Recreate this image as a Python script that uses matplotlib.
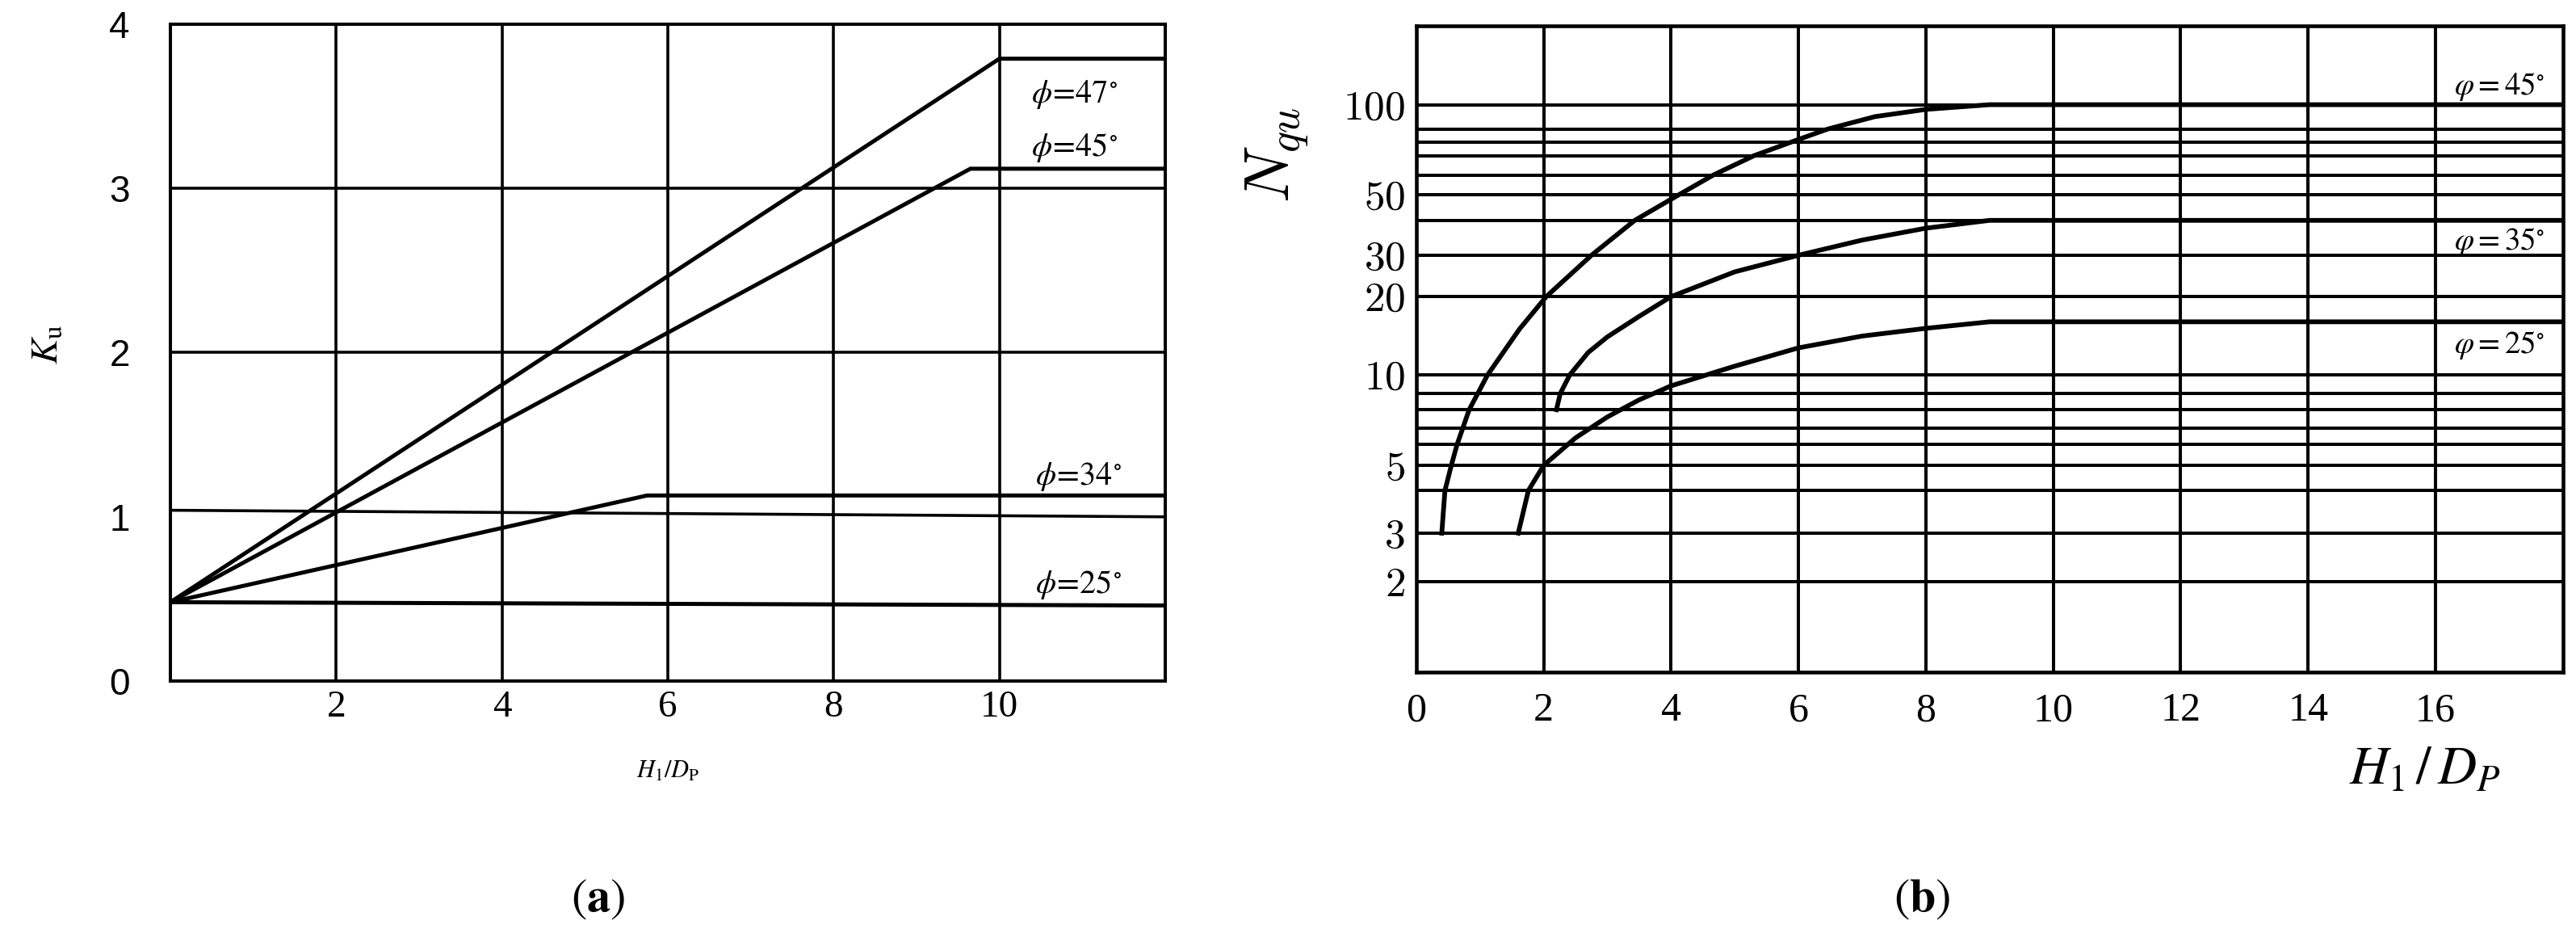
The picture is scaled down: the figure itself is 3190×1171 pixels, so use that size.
import numpy as np
import matplotlib
matplotlib.use("Agg")
import matplotlib.pyplot as plt

plt.rcParams["font.family"] = ["Liberation Serif", "DejaVu Serif"]
plt.rcParams["mathtext.fontset"] = "stix"

# ---- (a) Ku against H1/Dp ----
ku_angles = ["47", "45", "34", "25"]
ku_x = [[0, 10.0, 12], [0, 9.65, 12], [0, 5.75, 12], [0, 12]]
ku_y = [[0.48, 3.79, 3.79], [0.48, 3.12, 3.12], [0.48, 1.13, 1.13], [0.48, 0.46]]
ku_line1 = [1.04, 1.0]  # the "1" gridline is drawn a bit slanted in the original

# ---- (b) Nqu against H1/Dp ----
nq_angles = ["45", "35", "25"]
nq45_x = [0.40, 0.45, 0.55, 0.64, 0.83, 1.12, 1.62, 2.04, 2.75, 3.43, 4.0, 4.66, 5.3, 6.0, 6.45, 7.2, 8.0, 9.0, 18]
nq45_y = [3, 4, 5, 6, 8, 10, 15, 20, 30, 40, 48, 60, 70, 82, 90, 95, 98, 100, 100]
nq35_x = [2.2, 2.26, 2.41, 2.7, 3.0, 3.5, 4.0, 5.0, 6.0, 7.0, 8.0, 9.0, 18]
nq35_y = [8, 9, 10, 12.2, 14, 16.8, 20, 25.5, 30, 34, 37.5, 40, 40]
nq25_x = [1.6, 1.76, 2.0, 2.5, 3.0, 3.5, 4.0, 5.0, 6.0, 7.0, 8.0, 9.0, 18]
nq25_y = [3, 4, 5, 6.4, 7.6, 8.6, 9.4, 10.8, 12.7, 14.1, 15.1, 16, 16]

nq_ticks = [2, 3, 5, 10, 20, 30, 50, 100]
nq_grid = [2, 3, 4, 5, 6, 7, 8, 9, 10, 20, 30, 40, 50, 60, 70, 80, 90, 100]
# the printed axis is only roughly logarithmic, so calibrate it on its gridlines
nq_grid_pos = [0.140, 0.215, 0.281, 0.320, 0.352, 0.377, 0.406, 0.431, 0.460,
               0.581, 0.645, 0.699, 0.739, 0.769, 0.799, 0.820, 0.840, 0.878]


def lin_extrap(x, xp, fp):
    x = np.asarray(x, float)
    y = np.interp(x, xp, fp)
    y = np.where(x < xp[0], fp[0] + (x - xp[0]) * (fp[1] - fp[0]) / (xp[1] - xp[0]), y)
    y = np.where(x > xp[-1], fp[-1] + (x - xp[-1]) * (fp[-1] - fp[-2]) / (xp[-1] - xp[-2]), y)
    return y


lg = np.log10(nq_grid)
pos = np.array(nq_grid_pos)


def fwd(v):
    return lin_extrap(np.log10(np.maximum(v, 1e-6)), lg, pos)


def inv(p):
    return 10 ** lin_extrap(p, pos, lg)


fig = plt.figure(figsize=(31.9, 11.71), dpi=100)
ax1 = fig.add_axes([0.06614, 0.2801, 0.3862, 0.6943])
ax2 = fig.add_axes([0.5498, 0.2895, 0.4451, 0.6832])

# ----- panel a -----
ax1.set_xlim(0, 12)
ax1.set_ylim(0, 4)
for gx in [2, 4, 6, 8, 10]:
    ax1.axvline(gx, color="black", lw=2.6)
for gy in [2, 3]:
    ax1.axhline(gy, color="black", lw=2.6)
ax1.plot([0, 12], ku_line1, color="black", lw=2.6)
for xs, ys in zip(ku_x, ku_y):
    ax1.plot(xs, ys, color="black", lw=3.6, solid_joinstyle="miter")

ku_lab_xy = [(10.9, 3.57), (10.9, 3.25), (10.95, 1.245), (10.95, 0.59)]
for ang, (tx, ty) in zip(ku_angles, ku_lab_xy):
    ax1.text(tx, ty, r"$\phi\!=\!%s^{\!\circ}$" % ang, fontsize=29, ha="center", va="center")

ax1.set_xticks([2, 4, 6, 8, 10])
ax1.set_xticklabels(["2", "4", "6", "8", "10"], fontsize=34)
ax1.set_yticks([0, 1, 2, 3, 4])
ax1.set_yticklabels(["0", "1", "2", "3", "4"], fontsize=33, family="Liberation Sans")
ax1.tick_params(axis="x", length=0, pad=8)
ax1.tick_params(axis="y", length=0, pad=36)
for sp in ax1.spines.values():
    sp.set_linewidth(2.9)
ax1.set_xlabel(r"$H_1/D_\mathrm{P}$", fontsize=22)
ax1.xaxis.set_label_coords(0.5, -0.12)
ax1.set_ylabel(r"$K_\mathrm{u}$", fontsize=34)
ax1.yaxis.set_label_coords(-0.105, 0.512)

# ----- panel b -----
ax2.set_yscale("function", functions=(fwd, inv))
ax2.set_xlim(0, 18)
ax2.set_ylim(inv(0.0), inv(1.0))
for gx in range(2, 18, 2):
    ax2.axvline(gx, color="black", lw=2.9)
for gy in nq_grid:
    ax2.axhline(gy, color="black", lw=2.9)
for xs, ys in [(nq45_x, nq45_y), (nq35_x, nq35_y), (nq25_x, nq25_y)]:
    ax2.plot(xs, ys, color="black", lw=4.2)

nq_lab_xy = [(17.0, 108), (17.0, 33.7), (17.0, 13)]
for ang, (tx, ty) in zip(nq_angles, nq_lab_xy):
    ax2.text(tx, ty, r"$\varphi = %s^{\circ}$" % ang, fontsize=28, ha="center", va="center")

ax2.set_xticks(range(0, 18, 2))
ax2.set_xticklabels([str(v) for v in range(0, 18, 2)], fontsize=36)
ax2.set_yticks(nq_ticks)
ax2.set_yticklabels([r"$%d$" % v for v in nq_ticks], fontsize=37)
for t in ax2.get_yticklabels():
    t.set_math_fontfamily("cm")
ax2.yaxis.set_minor_locator(matplotlib.ticker.NullLocator())
ax2.tick_params(axis="x", length=0, pad=18)
ax2.tick_params(axis="y", length=0, pad=10)
for sp in ax2.spines.values():
    sp.set_linewidth(3.3)
ax2.set_xlabel(r"$H_1\,/\,D_P$", fontsize=48)
ax2.xaxis.set_label_coords(0.88, -0.114)
ylab = ax2.set_ylabel(r"$N_{qu}$", fontsize=56)
ylab.set_math_fontfamily("cm")
ax2.yaxis.set_label_coords(-0.092, 0.80)

fig.text(741 / 3190, 1 - 1113 / 1171, r"$(\mathbf{a})$", fontsize=42, ha="center", va="center")
fig.text(2380 / 3190, 1 - 1113 / 1171, r"$(\mathbf{b})$", fontsize=42, ha="center", va="center")

fig.savefig("out.png", dpi=100)
